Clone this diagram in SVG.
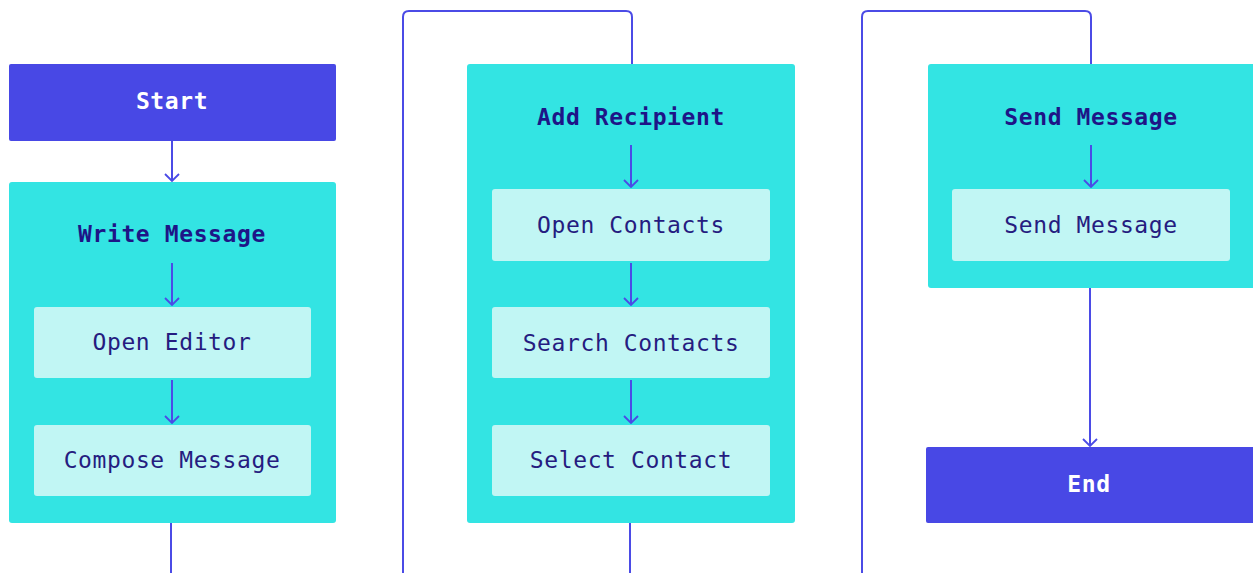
<svg xmlns="http://www.w3.org/2000/svg" width="1253" height="573" viewBox="0 0 1253 573">
  <defs>
    <style>
      .term { fill: #4848E5; }
      .group { fill: #33E4E3; }
      .step { fill: #C1F6F4; }
      .t { font-family: "DejaVu Sans Mono", "Liberation Mono", monospace; font-size: 23px; letter-spacing: 0.6px; text-anchor: middle; }
      .t-term { fill: #FFFFFF; font-weight: bold; }
      .t-group { fill: #1E1587; font-weight: bold; }
      .t-step { fill: #251C80; }
      .edge { fill: none; stroke: #4B4BE6; stroke-width: 2; }
    </style>
    <marker id="arrow" viewBox="-9 -9 10 18" refX="0" refY="0" markerWidth="10" markerHeight="18" markerUnits="userSpaceOnUse" orient="auto">
      <path d="M-7,-7 L0,0 L-7,7" fill="none" stroke="#4B4BE6" stroke-width="1.8"/>
    </marker>
  </defs>

  <g id="start">
    <rect class="term" x="9" y="64" width="327" height="77" rx="2"/>
    <text class="t t-term" x="172" y="109">Start</text>
  </g>

  <g id="write-message">
    <rect class="group" x="9" y="182" width="327" height="341" rx="3"/>
    <text class="t t-group" x="172" y="242">Write Message</text>
  </g>
  <g id="open-editor">
    <rect class="step" x="34" y="307" width="277" height="71" rx="3"/>
    <text class="t t-step" x="172" y="350">Open Editor</text>
  </g>
  <g id="compose-message">
    <rect class="step" x="34" y="425" width="277" height="71" rx="3"/>
    <text class="t t-step" x="172" y="468">Compose Message</text>
  </g>

  <g id="add-recipient">
    <rect class="group" x="467" y="64" width="328" height="459" rx="3"/>
    <text class="t t-group" x="631" y="125">Add Recipient</text>
  </g>
  <g id="open-contacts">
    <rect class="step" x="492" y="189" width="278" height="72" rx="3"/>
    <text class="t t-step" x="631" y="233">Open Contacts</text>
  </g>
  <g id="search-contacts">
    <rect class="step" x="492" y="307" width="278" height="71" rx="3"/>
    <text class="t t-step" x="631" y="351">Search Contacts</text>
  </g>
  <g id="select-contact">
    <rect class="step" x="492" y="425" width="278" height="71" rx="3"/>
    <text class="t t-step" x="631" y="468">Select Contact</text>
  </g>

  <g id="send-message-group">
    <rect class="group" x="928" y="64" width="328" height="224" rx="3"/>
    <text class="t t-group" x="1091" y="125">Send Message</text>
  </g>
  <g id="send-message">
    <rect class="step" x="952" y="189" width="278" height="72" rx="3"/>
    <text class="t t-step" x="1091" y="233">Send Message</text>
  </g>

  <g id="end">
    <rect class="term" x="926" y="447" width="330" height="76" rx="2"/>
    <text class="t t-term" x="1089" y="492">End</text>
  </g>

  <!-- connectors, drawn over the containers so the inner arrows stay visible -->
  <g id="connectors">
    <path class="edge" d="M171,523 V572 Q171,578 177,578 H397 Q403,578 403,572 V17 Q403,11 409,11 H626 Q632,11 632,17 V64"/>
    <path class="edge" d="M630,523 V572 Q630,578 636,578 H856 Q862,578 862,572 V17 Q862,11 868,11 H1085 Q1091,11 1091,17 V64"/>
    <path class="edge" d="M172,141 V181" marker-end="url(#arrow)"/>
    <path class="edge" d="M172,263 V305" marker-end="url(#arrow)"/>
    <path class="edge" d="M172,380 V423" marker-end="url(#arrow)"/>
    <path class="edge" d="M631,145 V187" marker-end="url(#arrow)"/>
    <path class="edge" d="M631,263 V305" marker-end="url(#arrow)"/>
    <path class="edge" d="M631,380 V423" marker-end="url(#arrow)"/>
    <path class="edge" d="M1091,145 V187" marker-end="url(#arrow)"/>
    <path class="edge" d="M1090,288 V446" marker-end="url(#arrow)"/>
  </g>
</svg>
